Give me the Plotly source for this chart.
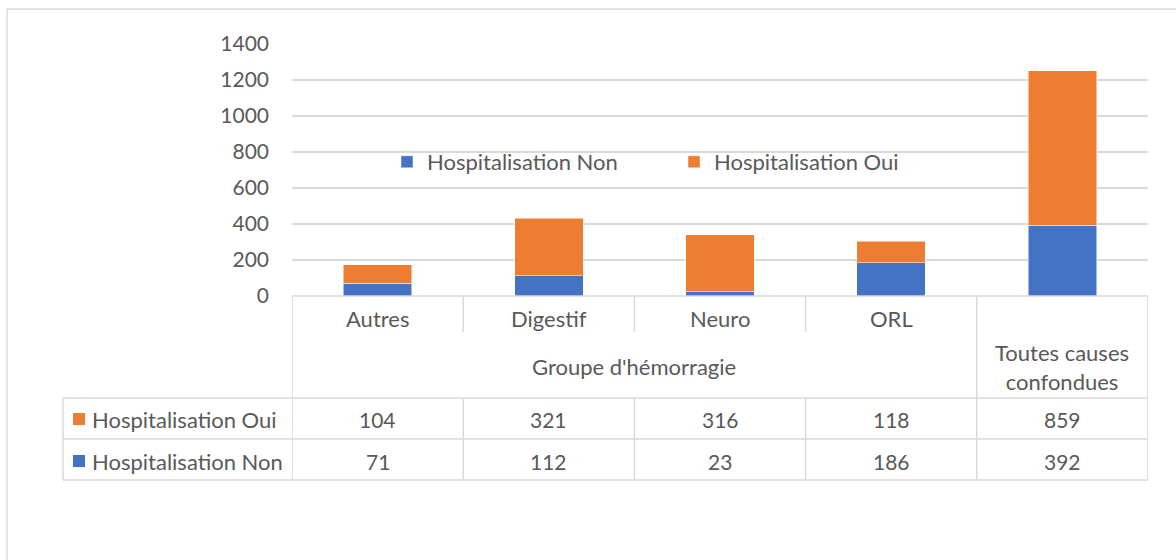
import plotly.graph_objects as go

# ---- data ----
categories = ["Autres", "Digestif", "Neuro", "ORL", "Toutes causes confondues"]
top_labels = ["Autres", "Digestif", "Neuro", "ORL", ""]
group_label = "Groupe d'hémorragie"
total_label = "Toutes causes<br>confondues"
series_names = ["Hospitalisation Non", "Hospitalisation Oui"]
hosp_non = [71, 112, 23, 186, 392]
hosp_oui = [104, 321, 316, 118, 859]
y_ticks = [0, 200, 400, 600, 800, 1000, 1200, 1400]

# ---- style ----
W, H = 1176, 560
BLUE = "#4472C4"
ORANGE = "#ED7D31"
GRID = "#D9D9D9"
TXT = "#595959"
FONT = "Lato"
FS_NUM = 21
FS_TXT = 22

def X(px):
    return px / W

def Y(py):
    return 1 - py / H

fig = go.Figure()
fig.add_trace(go.Bar(x=categories, y=hosp_non, name=series_names[0],
                     marker=dict(color=BLUE, line=dict(color="white", width=0.5))))
fig.add_trace(go.Bar(x=categories, y=hosp_oui, name=series_names[1],
                     marker=dict(color=ORANGE, line=dict(color="white", width=0.5))))

shapes = []
def hline(y, x0, x1):
    shapes.append(dict(type="line", xref="paper", yref="paper", x0=X(x0), x1=X(x1),
                       y0=Y(y), y1=Y(y), line=dict(color=GRID, width=1.5)))
def vline_axis(xv, y0, y1):
    shapes.append(dict(type="line", xref="x", yref="paper", x0=xv, x1=xv,
                       y0=Y(y0), y1=Y(y1), line=dict(color=GRID, width=1.5)))
def vline(x, y0, y1):
    shapes.append(dict(type="line", xref="paper", yref="paper", x0=X(x), x1=X(x),
                       y0=Y(y0), y1=Y(y1), line=dict(color=GRID, width=1.5)))

# outer chart border
shapes.append(dict(type="rect", xref="paper", yref="paper", x0=X(7), x1=1.05,
                   y0=-0.05, y1=Y(9), line=dict(color=GRID, width=1.5)))

# table lines
hline(296, 292, 1148)
for yy in (398, 439, 480):
    hline(yy, 63, 1148)
vline(63, 398, 480)
n = len(categories)
vline_axis(-0.5, 296, 480)
for i in range(n - 2):
    vline_axis(i + 0.5, 296, 332)
    vline_axis(i + 0.5, 398, 480)
vline_axis(n - 1.5, 296, 480)
vline_axis(n - 0.5, 296, 480)

# legend keys inside table
row_y = {series_names[1]: 419, series_names[0]: 461}
key_color = {series_names[1]: ORANGE, series_names[0]: BLUE}
for name in (series_names[1], series_names[0]):
    cy = row_y[name]
    shapes.append(dict(type="rect", xref="paper", yref="paper", x0=X(73), x1=X(85),
                       y0=Y(cy + 6), y1=Y(cy - 6), fillcolor=key_color[name],
                       line=dict(width=0)))

ann = []
def text(x, y, s, size, xref="x", xanchor="center"):
    ann.append(dict(x=x, y=Y(y), xref=xref, yref="paper", text=s, showarrow=False,
                    xanchor=xanchor, yanchor="middle",
                    font=dict(family=FONT, size=size, color=TXT)))

for i, lab in enumerate(top_labels):
    if lab:
        text(categories[i], 318, lab, FS_TXT)
text(1.5, 366, group_label, FS_TXT)
text(categories[-1], 367, total_label, FS_TXT)
text(X(90), 419, series_names[1], FS_TXT, xref="paper", xanchor="left")
text(X(90), 461, series_names[0], FS_TXT, xref="paper", xanchor="left")
for i in range(n):
    text(categories[i], 419, str(hosp_oui[i]), FS_NUM)
    text(categories[i], 461, str(hosp_non[i]), FS_NUM)

fig.update_layout(
    width=W, height=H,
    margin=dict(l=0, r=0, t=0, b=0, autoexpand=False),
    paper_bgcolor="white", plot_bgcolor="white",
    barmode="stack", bargap=0.6,
    font=dict(family=FONT, size=FS_TXT, color=TXT),
    showlegend=True,
    legend=dict(orientation="h", x=X(387), xanchor="left", y=Y(162), yanchor="middle",
                traceorder="normal", entrywidth=242, entrywidthmode="pixels",
                bgcolor="rgba(0,0,0,0)", font=dict(family=FONT, size=FS_TXT, color=TXT)),
    xaxis=dict(domain=[X(292), X(1148)], showticklabels=False, showgrid=False,
               zeroline=False, showline=False, ticks="", range=[-0.5, n - 0.5],
               automargin=False),
    yaxis=dict(domain=[Y(296), Y(44)], range=[0, 1400], tickvals=y_ticks,
               showgrid=True, gridcolor=GRID, gridwidth=1.5, zeroline=False,
               showline=False, ticks="", ticklabelstandoff=22, automargin=False,
               tickfont=dict(family=FONT, size=FS_NUM, color=TXT)),
    shapes=shapes, annotations=ann,
)

post = ("document.body.style.margin='0';document.body.style.padding='0';"
        "document.body.style.overflow='hidden';")

fig.write_html("out.html", post_script=post, config={"displayModeBar": False})
